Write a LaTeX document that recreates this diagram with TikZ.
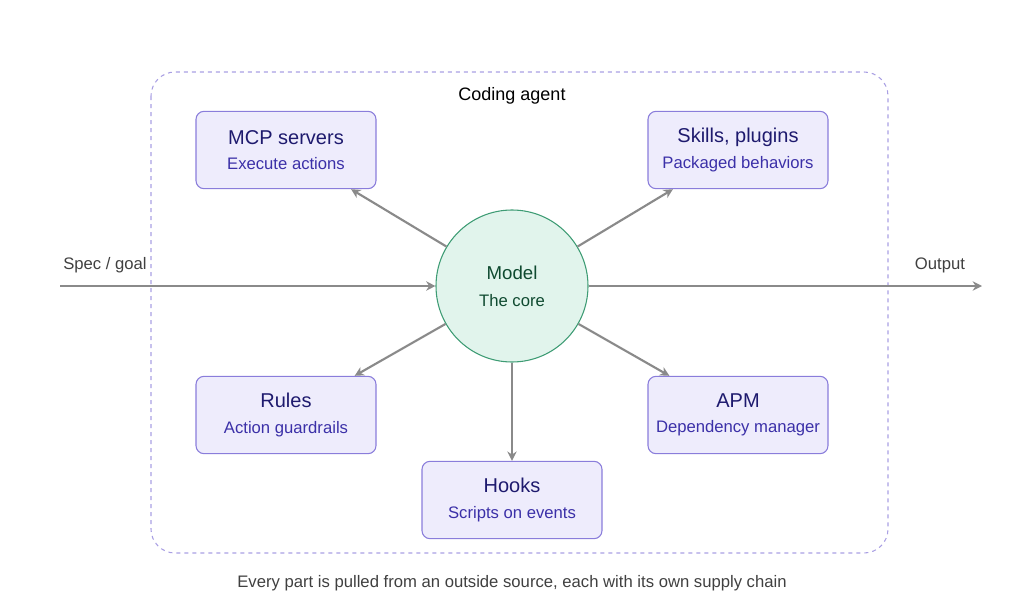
\documentclass[tikz,border=0pt]{standalone}
\usepackage{fontspec}
\setmainfont{Liberation Sans}
\usetikzlibrary{positioning, arrows.meta}
\definecolor{boxfill}{HTML}{EEECFC}
\definecolor{boxline}{HTML}{8A7DDB}
\definecolor{boxtext}{HTML}{1E1A6E}
\definecolor{boxsub}{HTML}{3B30A8}
\definecolor{corefill}{HTML}{E1F4EC}
\definecolor{coreline}{HTML}{3E9C74}
\definecolor{coretext}{HTML}{0F4A30}
\definecolor{arrowgray}{HTML}{8A8A8A}
\definecolor{frameline}{HTML}{A99FE3}
\tikzset{
  Arrow/.style = {draw=arrowgray, line width=1.6pt, -{Stealth[length=7pt, width=7pt]}},
}
\begin{document}
\begin{tikzpicture}[x=0.75pt, y=-0.75pt,
    part/.style = {rectangle, rounded corners=6pt, draw=boxline, fill=boxfill, line width=0.8pt,
      minimum width=135pt, minimum height=58pt, align=center, text=boxtext, font=\fontsize{15}{19}\selectfont},
    core/.style = {circle, draw=coreline, fill=corefill, line width=0.8pt, minimum size=114pt,
      align=center, text=coretext, font=\fontsize{14}{20}\selectfont},
    sub/.style = {text=boxsub, font=\fontsize{12.5}{16}\selectfont},
  ]
  \useasboundingbox (0,0) rectangle (1024,610);
  \draw[frameline, dashed, line width=0.8pt, rounded corners=18pt] (151,72) rectangle (888,553);
  \node (title) at (512,96) {\fontsize{13.5}{16}\selectfont Coding agent};

  \node[core] (model) at (512,286) {Model\\{\fontsize{12.5}{16}\selectfont The core}};
  \node[part] (mcp) at (286,150) {MCP servers\\{\usebox0}\textcolor{boxsub}{\fontsize{12.5}{16}\selectfont Execute actions}};
  \node[part] (skills) at (738,150) {Skills, plugins\\\textcolor{boxsub}{\fontsize{12.5}{16}\selectfont Packaged behaviors}};
  \node[part] (rules) at (286,415) {Rules\\\textcolor{boxsub}{\fontsize{12.5}{16}\selectfont Action guardrails}};
  \node[part] (apm) at (738,415) {APM\\\textcolor{boxsub}{\fontsize{12.5}{16}\selectfont Dependency manager}};
  \node[part] (hooks) at (512,500) {Hooks\\\textcolor{boxsub}{\fontsize{12.5}{16}\selectfont Scripts on events}};

  \coordinate (in) at (60,286);
  \coordinate (out) at (982,286);
  \node[text=black!75, font=\fontsize{12.5}{15}\selectfont] (spec) at (105,265) {Spec / goal};
  \node[text=black!75, font=\fontsize{12.5}{15}\selectfont] (outlabel) at (940,265) {Output};

  \draw[Arrow] (in) -- (model);
  \draw[Arrow] (model) -- (out);
  \draw[Arrow] (model) -- (mcp);
  \draw[Arrow] (model) -- (skills);
  \draw[Arrow] (model) -- (rules);
  \draw[Arrow] (model) -- (apm);
  \draw[Arrow] (model) -- (hooks);

  \node[text=black!75, font=\fontsize{12.5}{15}\selectfont] (caption) at (512,583)
    {Every part is pulled from an outside source, each with its own supply chain};
\end{tikzpicture}
\end{document}
